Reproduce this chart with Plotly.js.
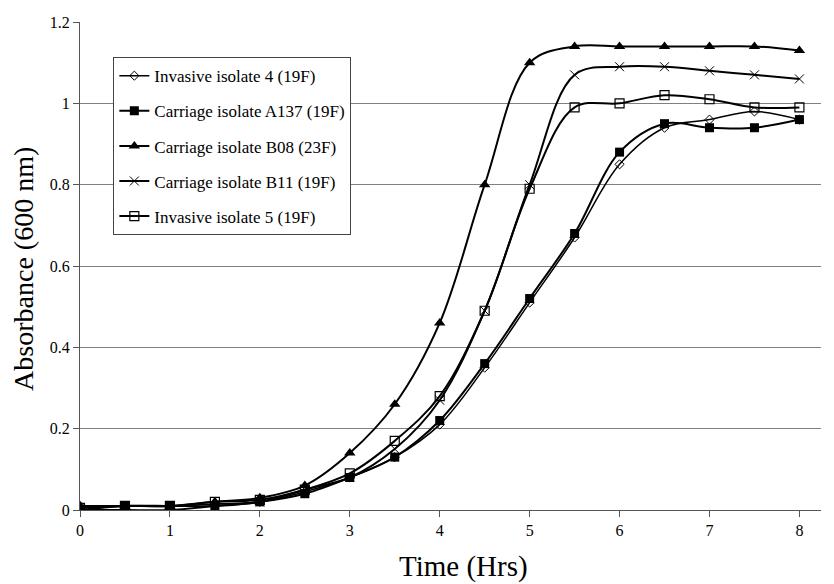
<!DOCTYPE html>
<html>
<head>
<meta charset="utf-8">
<script src="https://cdn.plot.ly/plotly-3.0.1.min.js"></script>
<style>html,body{margin:0;padding:0;background:#fff;}#chart{width:834px;height:584px;}</style>
</head>
<body>
<div id="chart"></div>
<script>
const timeHrs = [0, 0.5, 1, 1.5, 2, 2.5, 3, 3.5, 4, 4.5, 5, 5.5, 6, 6.5, 7, 7.5, 8];
const invasive4 = [0.01, 0.01, 0.01, 0.015, 0.02, 0.045, 0.08, 0.13, 0.21, 0.35, 0.51, 0.67, 0.85, 0.94, 0.96, 0.98, 0.96];
const carriageA137 = [0.0, 0.01, 0.01, 0.01, 0.02, 0.04, 0.08, 0.13, 0.22, 0.36, 0.52, 0.68, 0.88, 0.95, 0.94, 0.94, 0.96];
const carriageB08 = [0.01, 0.01, 0.01, 0.02, 0.03, 0.06, 0.14, 0.26, 0.46, 0.80, 1.10, 1.14, 1.14, 1.14, 1.14, 1.14, 1.13];
const carriageB11 = [0.0, 0.0, 0.0, 0.01, 0.02, 0.05, 0.08, 0.15, 0.27, 0.49, 0.80, 1.07, 1.09, 1.09, 1.08, 1.07, 1.06];
const invasive5 = [0.005, 0.01, 0.01, 0.02, 0.025, 0.05, 0.09, 0.17, 0.28, 0.49, 0.79, 0.99, 1.00, 1.02, 1.01, 0.99, 0.99];
const seriesNames = ["Invasive isolate 4 (19F)", "Carriage isolate A137 (19F)", "Carriage isolate B08 (23F)", "Carriage isolate B11 (19F)", "Invasive isolate 5 (19F)"];
const xTicks = [0, 1, 2, 3, 4, 5, 6, 7, 8];
const yTicks = [0, 0.2, 0.4, 0.6, 0.8, 1, 1.2];
const xTitle = "Time (Hrs)";
const yTitle = "Absorbance (600 nm)";

const serif = "Liberation Serif, Times New Roman, serif";
const seriesData = [invasive4, carriageA137, carriageB08, carriageB11, invasive5];
const markers = [
  {symbol: "diamond-open", size: 7, color: "#000", line: {width: 1, color: "#000"}},
  {symbol: "square", size: 9, color: "#000"},
  {symbol: "triangle-up", size: 10, color: "#000"},
  {symbol: "x-thin-open", size: 9, color: "#000", line: {width: 1, color: "#000"}},
  {symbol: "square-open", size: 9, color: "#000", line: {width: 1.2, color: "#000"}}
];
const widths = [1.5, 2, 2, 2, 2];

const traces = seriesData.map((ys, i) => ({
  x: timeHrs,
  y: ys,
  name: seriesNames[i],
  type: "scatter",
  mode: "lines+markers",
  line: {color: "#000", width: widths[i], shape: "spline", smoothing: 1},
  marker: markers[i],
  legendgroup: "g" + i
}));

const layout = {
  width: 834,
  height: 584,
  margin: {l: 80, r: 13, t: 22, b: 74},
  paper_bgcolor: "#fff",
  plot_bgcolor: "#fff",
  font: {family: serif, color: "#000", size: 16},
  showlegend: true,
  legend: {
    x: 0.045, y: 0.928, xanchor: "left", yanchor: "top",
    bgcolor: "#fff", bordercolor: "#444", borderwidth: 1,
    font: {family: serif, size: 17, color: "#000"},
    traceorder: "grouped", tracegroupgap: 10,
    itemwidth: 30
  },
  xaxis: {
    range: [0, 8.24],
    tickvals: xTicks,
    ticktext: xTicks.map(String),
    ticks: "outside", ticklen: 6, tickcolor: "#555",
    showline: true, linecolor: "#555", linewidth: 1,
    showgrid: false, zeroline: false,
    tickfont: {family: serif, size: 16, color: "#000"}
  },
  yaxis: {
    range: [0, 1.2],
    tickvals: yTicks,
    ticktext: yTicks.map(String),
    ticks: "outside", ticklen: 6, tickcolor: "#555",
    showline: true, linecolor: "#555", linewidth: 1,
    showgrid: true, gridcolor: "#808080", gridwidth: 1,
    zeroline: false,
    tickfont: {family: serif, size: 16, color: "#000"}
  },
  annotations: [
    {text: xTitle, xref: "paper", yref: "paper", x: 0.518, y: -0.1148, xanchor: "center", yanchor: "middle",
     showarrow: false, font: {family: serif, size: 29, color: "#000"}},
    {text: yTitle, xref: "paper", yref: "paper", x: -0.0756, y: 0.494, xanchor: "center", yanchor: "middle",
     textangle: -90, showarrow: false, font: {family: serif, size: 28, color: "#000"}}
  ]
};

Plotly.newPlot("chart", traces, layout, {staticPlot: true, displayModeBar: false});
</script>
</body>
</html>
